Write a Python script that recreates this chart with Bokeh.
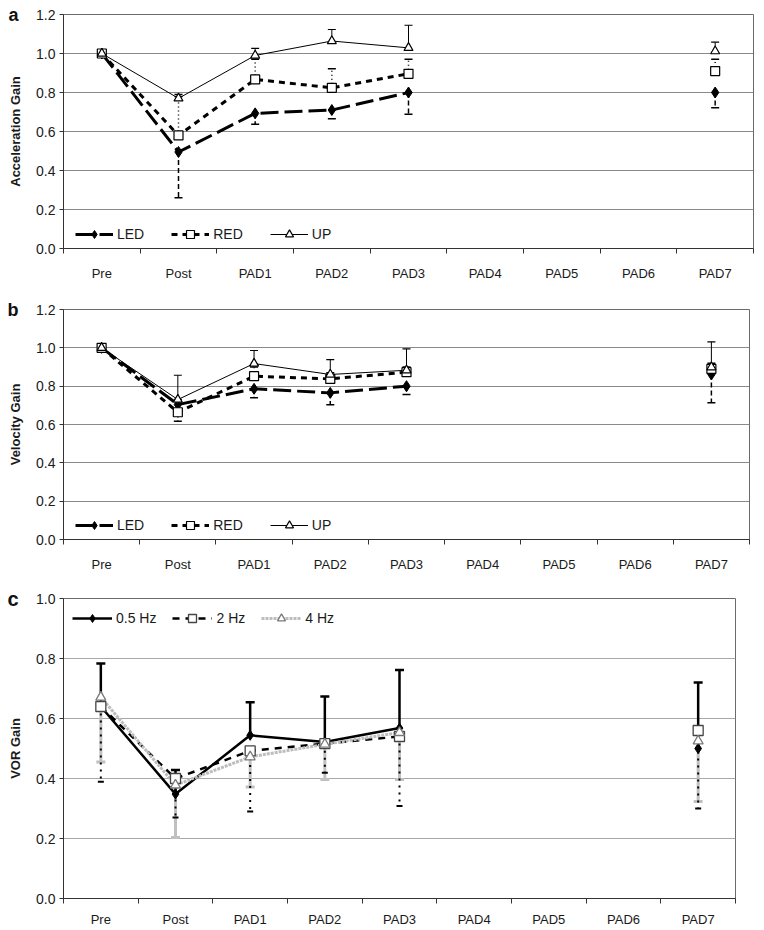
import math
from bokeh.plotting import figure
from bokeh.models import (Range1d, FixedTicker, NumeralTickFormatter, Legend,
                          LegendItem, LinearAxis)
from bokeh.layouts import column
from bokeh.embed import file_html
from bokeh.resources import INLINE

nan = float("nan")
categories = ["Pre", "Post", "PAD1", "PAD2", "PAD3", "PAD4", "PAD5", "PAD6", "PAD7"]

# Panel a: acceleration gain
acc_led = [1.0, 0.495, 0.693, 0.71, 0.80, nan, nan, nan, 0.80]
acc_led_lo = [nan, 0.26, 0.637, 0.666, 0.688, nan, nan, nan, 0.722]
acc_red = [1.0, 0.58, 0.867, 0.824, 0.896, nan, nan, nan, 0.91]
acc_red_hi = [nan, 0.78, 0.97, 0.922, 0.97, nan, nan, nan, 0.97]
acc_up = [1.0, 0.77, 0.99, 1.064, 1.029, nan, nan, nan, 1.012]
acc_up_hi = [nan, 0.79, 1.026, 1.123, 1.145, nan, nan, nan, 1.058]

# Panel b: velocity gain
vel_led = [1.0, 0.704, 0.786, 0.765, 0.80, nan, nan, nan, 0.861]
vel_led_lo = [nan, 0.617, 0.739, 0.703, 0.757, nan, nan, nan, 0.713]
vel_red = [1.0, 0.664, 0.852, 0.838, 0.873, nan, nan, nan, 0.89]
vel_red_hi = [nan, 0.73, 0.90, 0.87, 0.90, nan, nan, nan, 0.92]
vel_up = [1.0, 0.73, 0.918, 0.861, 0.883, nan, nan, nan, 0.899]
vel_up_hi = [nan, 0.857, 0.986, 0.939, 0.995, nan, nan, nan, 1.031]

# Panel c: VOR gain
vor_05 = [0.64, 0.348, 0.544, 0.522, 0.568, nan, nan, nan, 0.50]
vor_05_hi = [0.783, 0.428, 0.654, 0.673, 0.762, nan, nan, nan, 0.72]
vor_2 = [0.64, 0.40, 0.492, 0.516, 0.54, nan, nan, nan, 0.56]
vor_2_lo = [0.389, 0.27, 0.29, 0.419, 0.308, nan, nan, nan, 0.30]
vor_4 = [0.671, 0.378, 0.472, 0.514, 0.553, nan, nan, nan, 0.525]
vor_4_lo = [0.455, 0.203, 0.372, 0.397, 0.397, nan, nan, nan, 0.323]

ab_ticks = [0.0, 0.2, 0.4, 0.6, 0.8, 1.0, 1.2]
c_ticks = [0.0, 0.2, 0.4, 0.6, 0.8, 1.0]
panel_letters = ["a", "b", "c"]

FONT = "Liberation Sans"
xs = [i + 1 for i in range(len(categories))]


def make_fig(frame_w, frame_h, ymax, yticks, ylabel, top, bottom, right,
             grid_color, letter, letter_size, standoff):
    p = figure(frame_width=frame_w, frame_height=frame_h,
               x_range=Range1d(0.5, 9.5), y_range=Range1d(0, ymax),
               output_backend="svg", toolbar_location=None,
               min_border_left=63, min_border_right=right,
               min_border_top=top, min_border_bottom=bottom,
               background_fill_color="white", border_fill_color="white")
    p.outline_line_color = "#6b6b6b"
    p.outline_line_width = 1
    p.xgrid.visible = False
    p.ygrid.ticker = FixedTicker(ticks=yticks)
    p.ygrid.grid_line_color = grid_color
    p.ygrid.grid_line_width = 1.2

    xa = p.xaxis[0]
    xa.ticker = FixedTicker(ticks=xs, minor_ticks=[i + 0.5 for i in range(len(categories) + 1)])
    xa.major_label_overrides = {x: c for x, c in zip(xs, categories)}
    xa.major_tick_out = 0
    xa.major_tick_in = 0
    xa.minor_tick_out = 5
    xa.minor_tick_in = 0
    xa.minor_tick_line_color = "#333333"
    xa.axis_line_color = "#333333"
    xa.major_label_standoff = standoff
    xa.major_label_text_font = FONT
    xa.major_label_text_font_size = "13px"
    xa.major_label_text_color = "#1a1a1a"

    ya = p.yaxis[0]
    ya.ticker = FixedTicker(ticks=yticks)
    ya.formatter = NumeralTickFormatter(format="0.0")
    ya.major_tick_out = 4
    ya.major_tick_in = 0
    ya.minor_tick_out = 0
    ya.minor_tick_in = 0
    ya.major_tick_line_color = "#333333"
    ya.axis_line_color = "#333333"
    ya.major_label_standoff = 4
    ya.major_label_text_font = FONT
    ya.major_label_text_font_size = "14px"
    ya.major_label_text_color = "#1a1a1a"
    ya.axis_label = ylabel
    ya.axis_label_text_font = FONT
    ya.axis_label_text_font_size = "13px"
    ya.axis_label_text_font_style = "bold"
    ya.axis_label_text_color = "#1a1a1a"
    ya.axis_label_standoff = 10

    # panel letter: an outer left axis with a single labelled tick at the top
    p.extra_y_ranges = {"letter": Range1d(0, 10)}
    la = LinearAxis(y_range_name="letter", ticker=FixedTicker(ticks=[10]),
                    major_label_overrides={10: letter},
                    axis_line_color=None, major_tick_line_color=None,
                    minor_tick_line_color=None, major_tick_out=0,
                    major_tick_in=0, major_label_standoff=-13,
                    major_label_text_font=FONT,
                    major_label_text_font_size=letter_size,
                    major_label_text_font_style="bold",
                    major_label_text_color="#111111")
    p.add_layout(la, "left")
    return p


def err(p, ys, ends, dash, width, color, cap=8):
    p.segment(x0=xs, y0=ys, x1=xs, y1=ends, line_color=color,
              line_width=width, line_dash=dash)
    p.scatter(x=xs, y=ends, marker="dash", size=cap, line_color=color,
              line_width=width if width > 1.2 else 1.2)


def panel_ab(p, led, led_lo, red, red_hi, up, up_hi):
    err(p, led, led_lo, "5 3", 1.5, "black")
    err(p, red, red_hi, "1 3", 1.5, "black")
    err(p, up, up_hi, "solid", 1, "black")
    l1 = p.line(xs, led, line_color="black", line_width=3, line_dash="18 6")
    l2 = p.line(xs, red, line_color="black", line_width=3, line_dash="6 5")
    l3 = p.line(xs, up, line_color="black", line_width=1)
    m1 = p.scatter(xs, led, marker="diamond", size=11, fill_color="black",
                   line_color="black")
    m2 = p.scatter(xs, red, marker="square", size=9, fill_color="white",
                   line_color="black", line_width=1.2)
    m3 = p.scatter(xs, up, marker="triangle", size=9, fill_color="white",
                   line_color="black", line_width=1.2)
    legend = Legend(items=[LegendItem(label="LED", renderers=[l1, m1]),
                           LegendItem(label="RED", renderers=[l2, m2]),
                           LegendItem(label="UP", renderers=[l3, m3])],
                    orientation="horizontal", location=(12, 4),
                    border_line_alpha=0, background_fill_alpha=0,
                    label_text_font=FONT, label_text_font_size="14px",
                    label_text_color="#1a1a1a",
                    glyph_width=38, glyph_height=20, label_height=20,
                    label_standoff=4, spacing=27, padding=0, margin=0)
    p.add_layout(legend)


pa = make_fig(690, 234, 1.2, ab_ticks, "Acceleration Gain", 14, 38, 3,
              "#8a8a8a", panel_letters[0], "18px", 12)
panel_ab(pa, acc_led, acc_led_lo, acc_red, acc_red_hi, acc_up, acc_up_hi)

pb = make_fig(686, 230, 1.2, ab_ticks, "Velocity Gain", 23, 36, 7,
              "#8a8a8a", panel_letters[1], "18px", 12)
panel_ab(pb, vel_led, vel_led_lo, vel_red, vel_red_hi, vel_up, vel_up_hi)

pc = make_fig(672, 300, 1.0, c_ticks, "VOR Gain", 23, 24, 21,
              "#a8a8a8", panel_letters[2], "20px", 8)
err(pc, vor_4, vor_4_lo, "solid", 3, "#c0c0c0", cap=9)
err(pc, vor_2, vor_2_lo, "2 5", 2, "black", cap=6)
err(pc, vor_05, vor_05_hi, "solid", 2.5, "black", cap=9)
c1 = pc.line(xs, vor_05, line_color="black", line_width=2.5)
c2 = pc.line(xs, vor_2, line_color="black", line_width=2.5, line_dash="7 6")
c3 = pc.line(xs, vor_4, line_color="#bdbdbd", line_width=3, line_dash="3 1")
n1 = pc.scatter(xs, vor_05, marker="diamond", size=10, fill_color="black",
                line_color="black")
n2 = pc.scatter(xs, vor_2, marker="square", size=10, fill_color="white",
                line_color="#444444", line_width=1.3)
n3 = pc.scatter(xs, vor_4, marker="triangle", size=10, fill_color="white",
                line_color="#7a7a7a", line_width=1.3)
leg_c = Legend(items=[LegendItem(label="0.5 Hz", renderers=[c1, n1]),
                      LegendItem(label="2 Hz", renderers=[c2, n2]),
                      LegendItem(label="4 Hz", renderers=[c3, n3])],
               orientation="horizontal", location=(9, 270),
               border_line_alpha=0, background_fill_alpha=0,
               label_text_font=FONT, label_text_font_size="14px",
               label_text_color="#1a1a1a",
               glyph_width=40, glyph_height=20, label_height=20,
               label_standoff=4, spacing=16, padding=0, margin=0)
pc.add_layout(leg_c)

layout = column(pa, pb, pc, spacing=0)
open("out.html", "w").write(file_html(layout, INLINE))
